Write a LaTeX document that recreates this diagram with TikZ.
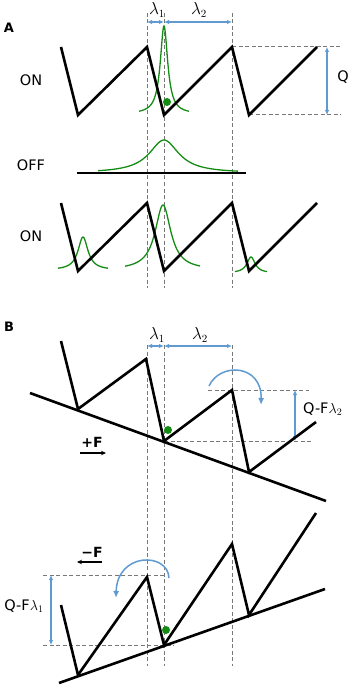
\documentclass[tikz,border=0pt]{standalone}
\usepackage{amsmath}
\usepackage{fontspec}
\setmainfont{DejaVu Sans}
\usepackage{xcolor}
\usepackage{tikz}
\usetikzlibrary{arrows.meta, positioning, calc}

\definecolor{peakgreen}{RGB}{20,140,20}
\definecolor{arrowblue}{RGB}{95,155,210}
\definecolor{guidegray}{RGB}{120,120,120}

\begin{document}
\begin{tikzpicture}[
        x=1pt, y=-1pt,
        saw/.style={line width=2.6pt, draw=black},
        guide/.style={draw=guidegray, line width=1pt, dash pattern=on 4pt off 2.5pt},
        peak/.style={draw=peakgreen, line width=1.3pt},
        span/.style={draw=arrowblue, line width=1.4pt, {Latex[length=5pt,width=4.5pt]}-{Latex[length=5pt,width=4.5pt]}},
        turn/.style={draw=arrowblue, line width=1.5pt, -{Latex[length=7pt,width=6pt]}},
        force/.style={draw=black, line width=1.1pt, -{Stealth[length=5pt,width=4.5pt]}},
        dot/.style={circle, fill=peakgreen, inner sep=0pt, minimum size=8pt},
        lab/.style={inner sep=0pt, font=\fontsize{14.5}{17}\selectfont},
        panel/.style={inner sep=0pt, font=\fontsize{13}{15}\selectfont\bfseries},
        lam/.style={inner sep=0pt, font=\fontsize{16}{19}\selectfont}
    ]
        \useasboundingbox (0,0) rectangle (349,687);

        % panel A
        \node[panel] (pa) at (9,28) {A};
        \node[lab] (on1) at (31,80) {ON};
        \node[lab] (off) at (31,165) {OFF};
        \node[lab] (on2) at (31,236) {ON};

        \coordinate (ga1) at (147,13);  \coordinate (gb1) at (147,288);
        \coordinate (ga2) at (164,13);  \coordinate (gb2) at (164,288);
        \coordinate (ga3) at (232,13);  \coordinate (gb3) at (232,288);
        \draw[guide] (ga1) -- (gb1);
        \draw[guide] (ga2) -- (gb2);
        \draw[guide] (ga3) -- (gb3);

        \coordinate (la1) at (147,22);
        \coordinate (la2) at (164,22);
        \coordinate (la3) at (232,22);
        \draw[span] (la1) -- (la2);
        \draw[span] (la2) -- (la3);
        \node[lam] (lama1) at (157,10) {$\lambda_1$};
        \node[lam] (lama2) at (199,10) {$\lambda_2$};

        \coordinate (t1) at (61,47);
        \coordinate (t2) at (78,115);
        \coordinate (t3) at (147,47);
        \coordinate (t4) at (164,115);
        \coordinate (t5) at (232,47);
        \coordinate (t6) at (249,115);
        \coordinate (t7) at (317,47);
        \coordinate (qt) at (341,47);
        \coordinate (qb) at (341,115);
        \draw[guide] (t5) -- (qt);
        \draw[guide] (t6) -- (qb);
        \draw[span] (327,47) -- (327,115);
        \node[lab] (q) at (343,77) {Q};
        \draw[peak] plot[domain=-25:25, samples=151] ({164+\x},{114-88/(1+(\x/4.5)^2)});
        \draw[saw] (t1) -- (t2) -- (t3) -- (t4) -- (t5) -- (t6) -- (t7);
        \node[dot] (da) at (167,102) {};

        \coordinate (f1) at (77,173);
        \coordinate (f2) at (246,173);
        \draw[peak] plot[domain=-66:74, samples=101] ({164+\x},{173-33/(1+(\x/18)^2)});
        \draw[saw] (f1) -- (f2);

        \coordinate (u1) at (61,203);
        \coordinate (u2) at (78,271);
        \coordinate (u3) at (147,203);
        \coordinate (u4) at (164,271);
        \coordinate (u5) at (232,203);
        \coordinate (u6) at (249,271);
        \coordinate (u7) at (317,203);
        \draw[peak] plot[domain=-25:25, samples=101] ({83+\x},{270-33/(1+(\x/6)^2)});
        \draw[peak] plot[domain=-38:37, samples=101] ({163+\x},{270-65/(1+(\x/9.5)^2)});
        \draw[peak] plot[domain=-16:16, samples=101] ({251+\x},{273-16/(1+(\x/5)^2)});
        \draw[saw] (u1) -- (u2) -- (u3) -- (u4) -- (u5) -- (u6) -- (u7);

        % panel B
        \node[panel] (pb) at (9,327) {B};

        \coordinate (gc1) at (147,345);  \coordinate (gd1) at (147,666);
        \coordinate (gc2) at (164,345);  \coordinate (gd2) at (164,666);
        \coordinate (gc3) at (232,345);  \coordinate (gd3) at (232,666);
        \draw[guide] (gc1) -- (gd1);
        \draw[guide] (gc2) -- (gd2);
        \draw[guide] (gc3) -- (gd3);

        \coordinate (lb1) at (147,346);
        \coordinate (lb2) at (164,346);
        \coordinate (lb3) at (232,346);
        \draw[span] (lb1) -- (lb2);
        \draw[span] (lb2) -- (lb3);
        \node[lam] (lamb1) at (157,335) {$\lambda_1$};
        \node[lam] (lamb2) at (200,335) {$\lambda_2$};

        \coordinate (s1) at (30,393);
        \coordinate (s2) at (326,501);
        \coordinate (p1) at (61,341);
        \coordinate (p2) at (78,409);
        \coordinate (p3) at (146,359);
        \coordinate (p4) at (164,441);
        \coordinate (p5) at (232,390);
        \coordinate (p6) at (249,472);
        \coordinate (p7) at (316,422);
        \coordinate (hp1) at (208,390);
        \coordinate (hp2) at (309,390);
        \coordinate (hp3) at (312,441);
        \draw[guide] (hp1) -- (hp2);
        \draw[guide] (p4) -- (hp3);
        \draw[span] (295,441) -- (295,390);
        \node[lab, anchor=west] (qf2) at (303,409) {Q-F$\lambda_2$};
        \draw[saw] (s1) -- (s2);
        \draw[saw] (p1) -- (p2) -- (p3) -- (p4) -- (p5) -- (p6) -- (p7);
        \node[dot] (db) at (168,430) {};
        \draw[turn] (209,386) .. controls (220,362) and (262,364) .. (261,405);
        \node[lab, font=\fontsize{14}{16}\selectfont\bfseries] (fp) at (92,442) {+F};
        \coordinate (fpa) at (80,453);
        \coordinate (fpb) at (106,453);
        \draw[force] (fpa) -- (fpb);

        \coordinate (r1) at (59,683);
        \coordinate (r2) at (325,589);
        \coordinate (m1) at (61,605);
        \coordinate (m2) at (78,675);
        \coordinate (m3) at (147,577);
        \coordinate (m4) at (164,645);
        \coordinate (m5) at (232,544);
        \coordinate (m6) at (249,615);
        \coordinate (m7) at (316,513);
        \coordinate (hm1) at (43,575);
        \coordinate (hm2) at (165,575);
        \coordinate (hm3) at (43,645);
        \coordinate (hm4) at (174,645);
        \draw[guide] (hm1) -- (hm2);
        \draw[guide] (hm3) -- (hm4);
        \draw[span] (51,575) -- (51,645);
        \node[lab] (qf1) at (24,606) {Q-F$\lambda_1$};
        \draw[saw] (r1) -- (r2);
        \draw[saw] (m1) -- (m2) -- (m3) -- (m4) -- (m5) -- (m6) -- (m7);
        \node[dot] (dc) at (166,630) {};
        \draw[turn] (169,578) .. controls (168,552) and (117,552) .. (116,598);
        \node[lab, font=\fontsize{14}{16}\selectfont\bfseries] (fm) at (92,552) {−F};
        \coordinate (fma) at (102,562);
        \coordinate (fmb) at (77,562);
        \draw[force] (fma) -- (fmb);
    \end{tikzpicture}
\end{document}
